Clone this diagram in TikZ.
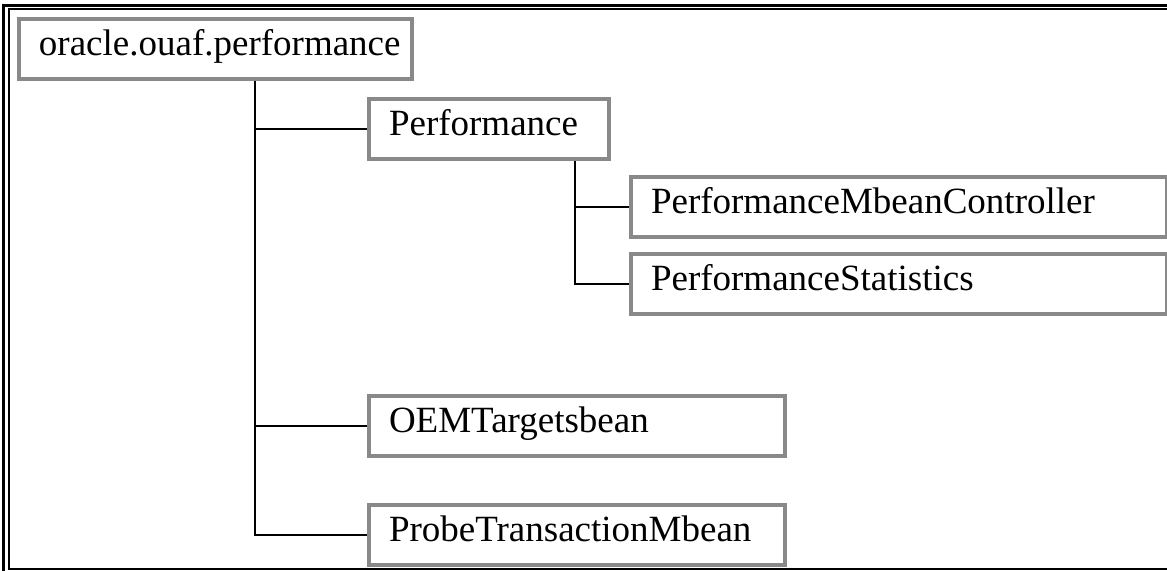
\documentclass[tikz,border=0pt]{standalone}
\usepackage{fontspec}
\setmainfont{Liberation Serif}
\usepackage{tikz}
\usetikzlibrary{positioning}
\definecolor{boxgray}{RGB}{137,137,137}

\begin{document}
\begin{tikzpicture}[x=0.5pt,y=-0.5pt,line width=1pt,
                    font=\fontsize{18.5pt}{22pt}\selectfont]
  \tikzstyle{pkg}=[draw=boxgray,line width=2pt,rectangle,anchor=north west,
                   minimum height=30pt,inner xsep=10pt,inner ysep=0pt,
                   text height=0.66em,text depth=0pt,align=left]
  \useasboundingbox (0,0) rectangle (1167,571);

  % frame
  \draw[line width=1.5pt] (1167,5.5) -| (3,571);
  \draw (1167,9.5) -| (9,569) -- (1167,569);

  \node[pkg,text width=176.5pt] (root) at (17,17) {oracle.ouaf.performance};
  \node[pkg,text width=100pt] (perf) at (367,97) {Performance};
  \node[pkg,text width=248pt] (ctrl) at (629,175) {PerformanceMbeanController};
  \node[pkg,text width=248pt] (stat) at (629,252) {PerformanceStatistics};
  \node[pkg,text width=188pt] (oem) at (367,394) {OEMTargetsbean};
  \node[pkg,text width=188pt] (probe) at (367,503) {ProbeTransactionMbean};

  \coordinate (t1) at (255,0);
  \coordinate (t2) at (575,0);

  \draw (root.south -| t1) |- (perf.west);
  \draw (root.south -| t1) |- (oem.west);
  \draw (root.south -| t1) |- (probe.west);
  \draw (perf.south -| t2) |- (ctrl.west);
  \draw (perf.south -| t2) |- (stat.west);
\end{tikzpicture}
\end{document}
